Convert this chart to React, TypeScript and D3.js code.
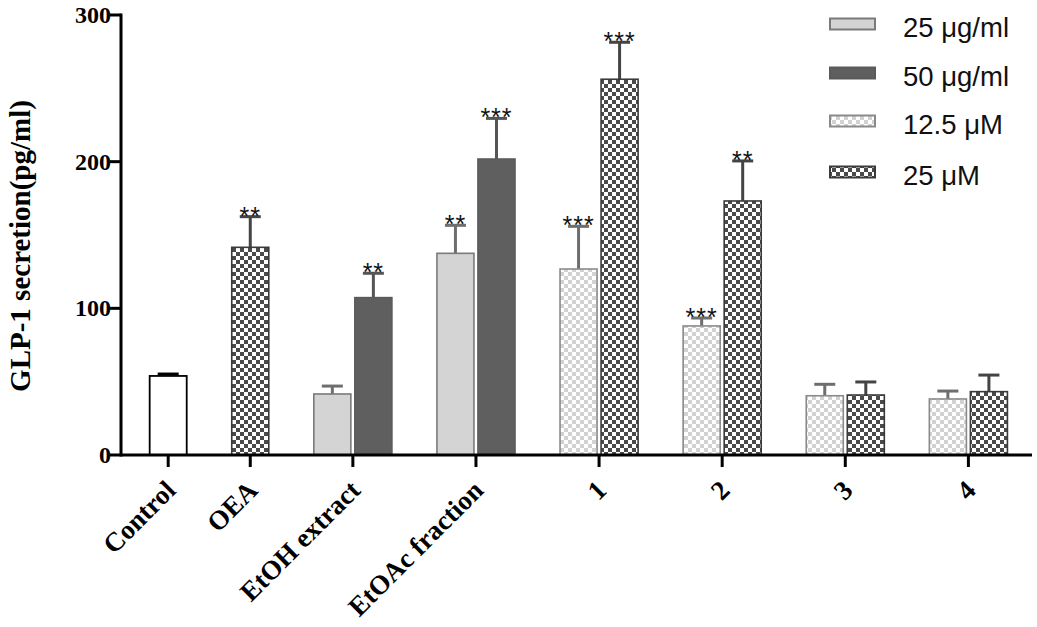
import React from "react";
import * as d3 from "d3";

const groupLabels = ["Control", "OEA", "EtOH extract", "EtOAc fraction", "1", "2", "3", "4"];
const seriesNames = ["25 μg/ml", "50 μg/ml", "12.5 μM", "25 μM"];
// bars per group, in order
const barGroup = [0, 1, 2, 2, 3, 3, 4, 4, 5, 5, 6, 6, 7, 7];
const barSeries = ["control", "s4", "s1", "s2", "s1", "s2", "s3", "s4", "s3", "s4", "s3", "s4", "s3", "s4"];
const means = [53.9, 141.6, 41.6, 107.3, 137.5, 201.8, 126.8, 256.2, 88.0, 173.2, 40.4, 40.9, 38.2, 43.2];
const errors = [1.3, 20.9, 5.4, 16.6, 19.1, 27.7, 29.1, 25.2, 5.4, 27.3, 7.8, 8.9, 5.4, 11.3];
const sig = ["", "**", "", "**", "**", "***", "***", "***", "***", "**", "", "", "", ""];
const yTicks = [0, 100, 200, 300];

const W = 1037;
const H = 627;
const axisX = 121;
const axisRight = 1032;
const y0px = 455;
const ytop = 15;

const styles: Record<string, { fill: string; stroke: string; err: string }> = {
  control: { fill: "#ffffff", stroke: "#000000", err: "#000000" },
  s1: { fill: "#d4d4d4", stroke: "#7a7a7a", err: "#6e6e6e" },
  s2: { fill: "#5f5f5f", stroke: "#5a5a5a", err: "#555555" },
  s3: { fill: "url(#lightChecker)", stroke: "#8a8a8a", err: "#6e6e6e" },
  s4: { fill: "url(#darkChecker)", stroke: "#3a3a3a", err: "#444444" },
};

export default function App() {
  // slot index per bar: bars of a group adjacent, one blank slot between groups
  const slots: number[] = [];
  let s = 0;
  barGroup.forEach((g, i) => {
    if (i > 0 && g !== barGroup[i - 1]) s += 2;
    else if (i > 0) s += 1;
    slots.push(s);
  });
  const lastSlot = slots[slots.length - 1];
  const x = d3.scaleLinear().domain([-1.15, lastSlot + 1.05]).range([axisX, axisRight]);
  const y = d3.scaleLinear().domain([0, 300]).range([y0px, ytop]);
  const slotW = x(1) - x(0);
  const barW = slotW - 4;

  const groupCenters = groupLabels.map((_, g) => {
    const ss = slots.filter((_, i) => barGroup[i] === g);
    return x(d3.mean(ss) as number);
  });

  const serif = "'Liberation Serif', 'Times New Roman', serif";
  const sans = "'Liberation Sans', Arial, sans-serif";

  const legendY = [24, 73, 121, 172];
  const legendKeys = ["s1", "s2", "s3", "s4"];

  return (
    <svg width={W} height={H} style={{ position: "absolute", left: 0, top: 0, background: "#fff" }}>
      <defs>
        <pattern id="darkChecker" width="8" height="8" patternUnits="userSpaceOnUse">
          <rect width="8" height="8" fill="#ffffff" />
          <rect x="0" y="0" width="4" height="4" fill="#4a4a4a" />
          <rect x="4" y="4" width="4" height="4" fill="#4a4a4a" />
        </pattern>
        <pattern id="lightChecker" width="8" height="8" patternUnits="userSpaceOnUse">
          <rect width="8" height="8" fill="#ffffff" />
          <rect x="0" y="0" width="4" height="4" fill="#d2d2d2" />
          <rect x="4" y="4" width="4" height="4" fill="#d2d2d2" />
        </pattern>
      </defs>
      <rect width={W} height={H} fill="#fff" />

      {/* bars */}
      {means.map((m, i) => {
        const st = styles[barSeries[i]];
        const cx = x(slots[i]);
        const top = y(m);
        const capY = y(m + errors[i]);
        return (
          <g key={i}>
            <line x1={cx} x2={cx} y1={top} y2={capY} stroke={st.err} strokeWidth={3} />
            <line x1={cx - 10.5} x2={cx + 10.5} y1={capY} y2={capY} stroke={st.err} strokeWidth={3} />
            <rect
              x={cx - barW / 2}
              y={top}
              width={barW}
              height={y0px - top}
              fill={st.fill}
              stroke={st.stroke}
              strokeWidth={barSeries[i] === "control" ? 1.8 : 1.6}
            />
            {sig[i] && (
              <text
                x={cx}
                y={capY + 8}
                textAnchor="middle"
                fontFamily={sans}
                fontSize={25}
                letterSpacing={1}
                fill="#111"
              >
                {sig[i]}
              </text>
            )}
          </g>
        );
      })}

      {/* y axis */}
      <line x1={axisX} x2={axisX} y1={ytop - 1.5} y2={y0px + 1.5} stroke="#000" strokeWidth={3} />
      {yTicks.map((t) => (
        <g key={t}>
          <line x1={axisX - 11} x2={axisX} y1={y(t)} y2={y(t)} stroke="#000" strokeWidth={3} />
          <text
            x={axisX - 10}
            y={y(t) + 8}
            textAnchor="end"
            fontFamily={serif}
            fontWeight="bold"
            fontSize={24}
            fill="#000"
          >
            {t}
          </text>
        </g>
      ))}
      <text
        transform={`translate(30, 246) rotate(-90)`}
        textAnchor="middle"
        fontFamily={serif}
        fontWeight="bold"
        fontSize={29}
        fill="#000"
      >
        GLP-1 secretion(pg/ml)
      </text>

      {/* x axis */}
      <line x1={axisX} x2={axisRight} y1={y0px} y2={y0px} stroke="#000" strokeWidth={3} />
      {groupCenters.map((cx, g) => (
        <g key={g}>
          <line x1={cx} x2={cx} y1={y0px} y2={y0px + 12} stroke="#000" strokeWidth={3} />
          <text
            transform={`translate(${cx + 9}, ${y0px + 37}) rotate(-45)`}
            textAnchor="end"
            fontFamily={serif}
            fontWeight="bold"
            fontSize={27}
            fill="#000"
          >
            {groupLabels[g]}
          </text>
        </g>
      ))}

      {/* legend */}
      {legendKeys.map((k, i) => {
        const st = styles[k];
        return (
          <g key={k}>
            <rect
              x={830}
              y={legendY[i] - 5.5}
              width={45}
              height={11}
              fill={st.fill}
              stroke={st.stroke}
              strokeWidth={2}
            />
            <text x={903} y={legendY[i] + 13} fontFamily={sans} fontSize={27.5} fill="#111">
              {seriesNames[i]}
            </text>
          </g>
        );
      })}
    </svg>
  );
}
